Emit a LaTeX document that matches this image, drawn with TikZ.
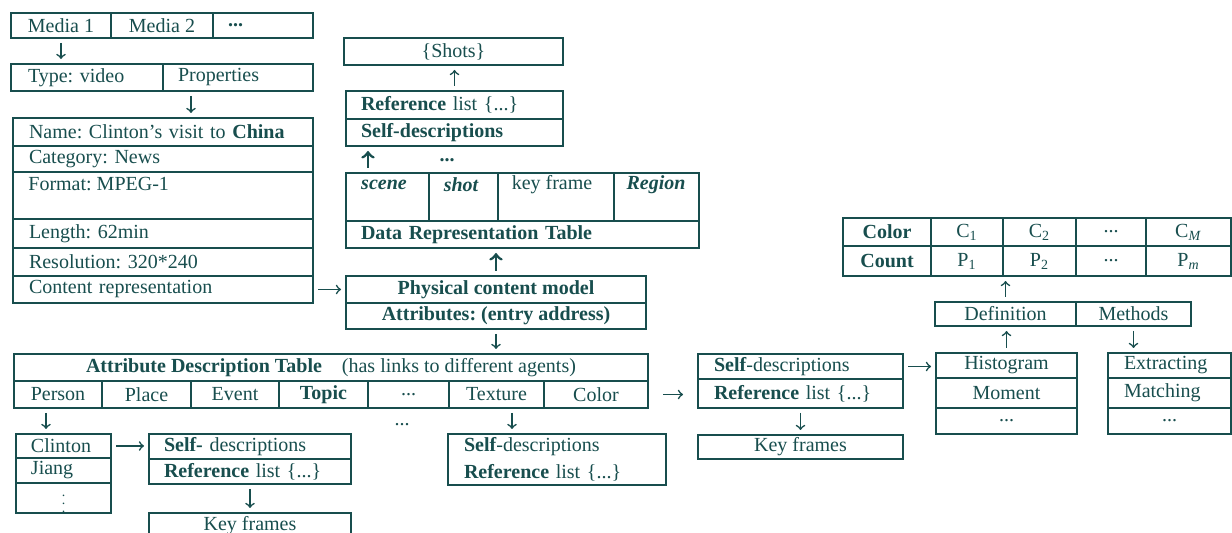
\documentclass[tikz,border=0pt]{standalone}
\usepackage{fontspec}
\setmainfont{Liberation Serif}
\usepackage{tikz}
\usetikzlibrary{positioning, arrows}
\definecolor{ink}{RGB}{24,78,78}
\frenchspacing

\tikzset{
  box/.style={draw=ink, line width=1pt, inner sep=0pt, text=ink, anchor=north west},
  lbox/.style={box, align=left, text width=#1},
  txt/.style={inner sep=0pt, text=ink},
  arr/.style={->, draw=ink, line width=0.8pt, shorten >=2pt, shorten <=2pt},
  barr/.style={arr, line width=1.4pt}
}

\begin{document}
\begin{tikzpicture}[x=0.5pt, y=-0.5pt]
\useasboundingbox (0,0) rectangle (1232,533);
\fill[white] (0,0) rectangle (1232,533);

% media and properties
\node[box, minimum width=50pt, minimum height=12.5pt] (media1) at (10,12) {Media 1};
\node[box, minimum width=51pt, minimum height=12.5pt] (media2) at (110,12) {Media 2};
\node[lbox=35pt, minimum width=50pt, minimum height=12.5pt] (mediaN) at (212,12) {\textbf{...}};
\node[lbox=59pt, minimum width=76pt, minimum height=13.5pt] (typevid) at (10,63) {Type: video};
\node[lbox=60pt, minimum width=75pt, minimum height=13.5pt] (props) at (162,63) {Properties};
\node[lbox=134pt, minimum width=150pt, minimum height=14pt] (name) at (12,117) {Name: Clinton's visit to \textbf{China}};
\node[lbox=134pt, minimum width=150pt, minimum height=13pt] (categ) at (12,145) {Category: News};
\node[box, minimum width=150pt, minimum height=23.5pt] (format) at (12,171) {};
\node[txt, anchor=west] (format-t) at (28,184) {Format: MPEG-1};
\node[lbox=134pt, minimum width=150pt, minimum height=14.5pt] (length) at (12,218) {Length: 62min};
\node[lbox=134pt, minimum width=150pt, minimum height=14pt] (resol) at (12,247) {Resolution: 320*240};
\node[lbox=134pt, minimum width=150pt, minimum height=13.5pt] (content) at (12,275) {Content representation};

% physical content model
\node[box, minimum width=109.5pt, minimum height=13.5pt] (shots) at (343,37) {\{Shots\}};
\node[lbox=93.5pt, minimum width=108.5pt, minimum height=14pt] (refmid) at (345,90) {\textbf{Reference} list \{...\}};
\node[lbox=93.5pt, minimum width=108.5pt, minimum height=13.5pt] (selfmid) at (345,118) {\textbf{Self-descriptions}};
\node[txt] (dotsA) at (447,160) {\textbf{...}};
\node[box, minimum width=41.5pt, minimum height=24pt] (scene) at (345,172) {};
\node[box, minimum width=34.5pt, minimum height=24pt] (shot) at (428,172) {};
\node[box, minimum width=58pt, minimum height=24pt] (keyframe) at (497,172) {};
\node[box, minimum width=42.5pt, minimum height=24pt] (region) at (613,172) {};
\node[txt, font=\bfseries\itshape] (scene-t) at (384,185) {scene};
\node[txt, font=\bfseries\itshape] (shot-t) at (461,185) {shot};
\node[txt] (keyframe-t) at (552,185) {key frame};
\node[txt, font=\bfseries\itshape] (region-t) at (656,185) {Region};
\node[lbox=161.5pt, minimum width=176.5pt, minimum height=13.5pt] (drt) at (345,220) {\textbf{Data Representation Table}};
\node[box, minimum width=150pt, minimum height=13.5pt] (physical) at (345,275) {\textbf{Physical content model}};
\node[box, minimum width=150pt, minimum height=13pt] (attrs) at (345,302) {\textbf{Attributes: (entry address)}};

% attribute description table
\node[box, minimum width=317pt, minimum height=13.5pt] (adt) at (13,353) {\textbf{Attribute Description Table}\quad(has links to different agents)};
\node[box, minimum width=44pt, minimum height=13.5pt] (person) at (13,380) {Person};
\node[box, minimum width=44.5pt, minimum height=13.5pt] (place) at (101,380) {Place};
\node[box, minimum width=44pt, minimum height=13.5pt] (event) at (190,380) {Event};
\node[box, minimum width=44.5pt, minimum height=13.5pt] (topic) at (278,380) {\textbf{Topic}};
\node[box, minimum width=40.5pt, minimum height=13.5pt] (adtdots) at (367,380) {...};
\node[box, minimum width=47.5pt, minimum height=13.5pt] (texture) at (448,380) {Texture};
\node[box, minimum width=52pt, minimum height=13.5pt] (colorA) at (543,380) {Color};

\node[lbox=32.5pt, minimum width=47.5pt, minimum height=12pt] (clinton) at (15,433) {Clinton};
\node[lbox=32.5pt, minimum width=47.5pt, minimum height=12.5pt] (jiang) at (15,457) {Jiang};
\node[box, minimum width=47.5pt, minimum height=14pt, font=\scriptsize] (persdots) at (15,482) {$\vdots$};
\node[lbox=86pt, minimum width=101pt, minimum height=12.5pt] (selfP) at (148,433) {\textbf{Self-} descriptions};
\node[lbox=86pt, minimum width=101pt, minimum height=12.5pt] (refP) at (148,458) {\textbf{Reference} list \{...\}};
\node[box, minimum width=101pt, minimum height=12.5pt] (keyP) at (148,512) {Key frames};
\node[txt] (dotsB) at (402,425) {...};
\node[lbox=93pt, minimum width=109pt, minimum height=25.5pt] (selfT) at (447,433) {\textbf{Self}-descriptions\\[1.5pt]\textbf{Reference} list \{...\}};

% color feature
\node[lbox=86.5pt, minimum width=102.5pt, minimum height=12.5pt] (selfR) at (697,353) {\textbf{Self}-descriptions};
\node[lbox=86.5pt, minimum width=102.5pt, minimum height=14.5pt] (refR) at (697,378) {\textbf{Reference} list \{...\}};
\node[box, minimum width=102.5pt, minimum height=12pt] (keyR) at (697,434) {Key frames};
\node[box, minimum width=70.5pt, minimum height=12.5pt] (hist) at (935,352) {Histogram};
\node[box, minimum width=70.5pt, minimum height=15pt] (moment) at (935,377) {Moment};
\node[box, minimum width=70.5pt, minimum height=13pt] (histdots) at (935,407) {...};
\node[lbox=45.5pt, minimum width=61.5pt, minimum height=12.5pt] (extract) at (1107,352) {Extracting};
\node[lbox=45.5pt, minimum width=61.5pt, minimum height=15pt] (matching) at (1107,377) {Matching};
\node[box, minimum width=61.5pt, minimum height=13pt] (extdots) at (1107,407) {...};
\node[box, minimum width=70.5pt, minimum height=12pt] (defn) at (934,301) {Definition};
\node[box, minimum width=57.5pt, minimum height=12pt] (methods) at (1075,301) {Methods};
\node[box, minimum width=44pt, minimum height=14pt] (colorh) at (842,217) {\textbf{Color}};
\node[box, minimum width=36pt, minimum height=14pt] (c1) at (930,217) {C\textsubscript{1}};
\node[box, minimum width=36.5pt, minimum height=14pt] (c2) at (1002,217) {C\textsubscript{2}};
\node[box, minimum width=35pt, minimum height=14pt] (cdots) at (1075,217) {...};
\node[box, minimum width=42.5pt, minimum height=14pt] (cm) at (1145,217) {C\textsubscript{\textit{M}}};
\node[box, minimum width=44pt, minimum height=15pt] (counth) at (842,245) {\textbf{Count}};
\node[box, minimum width=36pt, minimum height=15pt] (p1) at (930,245) {P\textsubscript{1}};
\node[box, minimum width=36.5pt, minimum height=15pt] (p2) at (1002,245) {P\textsubscript{2}};
\node[box, minimum width=35pt, minimum height=15pt] (pdots) at (1075,245) {...};
\node[box, minimum width=42.5pt, minimum height=15pt] (pm) at (1145,245) {P\textsubscript{\textit{m}}};

\draw[arr] (media1.south) -- (media1.south |- typevid.north);
\draw[arr] ([xshift=-23.5pt]props.south) -- ([xshift=-23.5pt]props.south |- name.north);
\draw[arr] (content.east) -- (content.east -| physical.west);
\draw[arr] (refmid.north) -- (refmid.north |- shots.south);
\draw[barr] ([xshift=-9.75pt]scene.north) -- ([xshift=-9.75pt]scene.north |- selfmid.south);
\draw[barr] (physical.north) -- (physical.north |- drt.south);
\draw[arr] (attrs.south) -- (attrs.south |- adt.north);
\draw[arr] ([xshift=-6pt]person.south) -- ([xshift=-6pt]person.south |- clinton.north);
\draw[arr] (clinton.east) -- (clinton.east -| selfP.west);
\draw[arr] (refP.south) -- (refP.south |- keyP.north);
\draw[arr] ([xshift=7.75pt]texture.south) -- ([xshift=7.75pt]texture.south |- selfT.north);
\draw[arr, shorten >=7pt, shorten <=7pt] (colorA.east) -- (colorA.east -| refR.west);
\draw[arr] (refR.south) -- (refR.south |- keyR.north);
\draw[arr] (selfR.east) -- (selfR.east -| hist.west);
\draw[arr] (hist.north) -- (hist.north |- defn.south);
\draw[arr] (methods.south) -- (methods.south |- extract.north);
\draw[arr] (defn.north) -- (defn.north |- p1.south);
\end{tikzpicture}
\end{document}
